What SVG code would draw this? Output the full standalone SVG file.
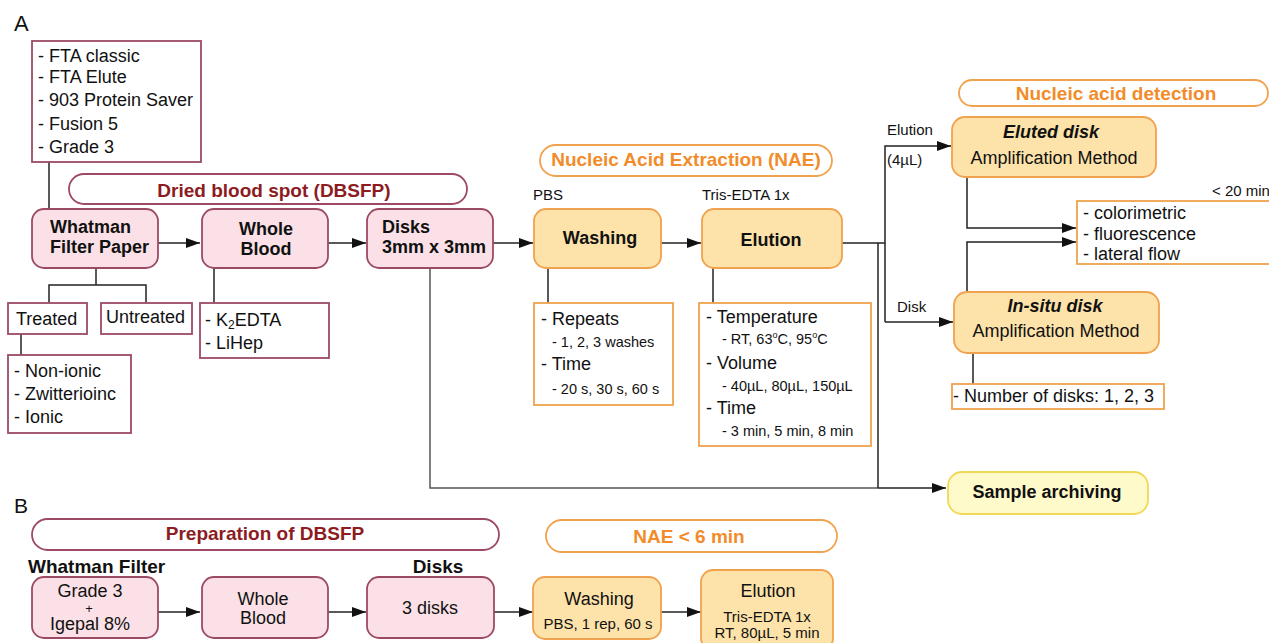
<svg xmlns="http://www.w3.org/2000/svg" width="1269" height="643" viewBox="0 0 1269 643">
<defs>
<marker id="ah" viewBox="0 0 14 10" refX="14" refY="5" markerWidth="14" markerHeight="10" markerUnits="userSpaceOnUse" orient="auto">
<path d="M0,0 L14,5 L0,10 Z" fill="#111"/>
</marker>
<style>
text{font-family:"Liberation Sans",Arial,sans-serif;fill:#111}
.t18{font-size:18px}
.t15{font-size:15px}
.t145{font-size:14.5px}
.b{font-weight:bold}
.bi{font-weight:bold;font-style:italic}
.c{text-anchor:middle}
.pk{fill:#fbe1e7;stroke:#9c4a64;stroke-width:1.8}
.pl{fill:#fff;stroke:#9c4a64;stroke-width:1.8}
.or{fill:#fde3a9;stroke:#f0a24e;stroke-width:1.8}
.ol{fill:#fff;stroke:#f0a24e;stroke-width:1.8}
.ye{fill:#fffac9;stroke:#efd957;stroke-width:1.8}
.bp{fill:#fff;stroke:#9c4a64;stroke-width:1.8}
.bo{fill:#fff;stroke:#f0a24e;stroke-width:1.8}
.tr{font-size:19px;font-weight:bold;fill:#8c1c1f}
.to{font-size:19px;font-weight:bold;fill:#f28c2a}
.ln{fill:none;stroke:#222;stroke-width:1.5}
.lg{fill:none;stroke:#555;stroke-width:1.5}
</style>
</defs>
<rect width="1269" height="643" fill="#fff"/>

<text x="14" y="31" style="font-size:22px">A</text>
<text x="14" y="513" style="font-size:21px">B</text>

<g id="connectors">
<line class="ln" x1="49" y1="162" x2="49" y2="209"/>
<line class="ln" x1="158" y1="243" x2="200" y2="243" marker-end="url(#ah)"/>
<line class="ln" x1="328" y1="243" x2="366" y2="243" marker-end="url(#ah)"/>
<line class="ln" x1="493" y1="243" x2="533" y2="243" marker-end="url(#ah)"/>
<line class="ln" x1="661" y1="243" x2="701" y2="243" marker-end="url(#ah)"/>
<polyline class="ln" points="96,268 96,285"/>
<polyline class="ln" points="49,303 49,285 146,285 146,303"/>
<line class="ln" x1="21" y1="334" x2="21" y2="355"/>
<line class="ln" x1="214" y1="268" x2="214" y2="303"/>
<polyline class="lg" points="430,268 430,488 878,488"/>
<line class="ln" x1="878" y1="488" x2="946" y2="488" marker-end="url(#ah)"/>
<line class="ln" x1="548" y1="268" x2="548" y2="303"/>
<line class="ln" x1="713" y1="268" x2="713" y2="303"/>
<line class="ln" x1="842" y1="243" x2="885" y2="243"/>
<line class="ln" x1="878" y1="243" x2="878" y2="488"/>
<polyline class="ln" points="885,322 885,146 951,146" marker-end="url(#ah)"/>
<line class="ln" x1="885" y1="322" x2="953" y2="322" marker-end="url(#ah)"/>
<polyline class="ln" points="967,177 967,228 1076,228" marker-end="url(#ah)"/>
<polyline class="ln" points="967,292 967,242 1076,242" marker-end="url(#ah)"/>
<line class="ln" x1="973" y1="353" x2="973" y2="384"/>
<line class="ln" x1="158" y1="612" x2="200" y2="612" marker-end="url(#ah)"/>
<line class="ln" x1="328" y1="612" x2="366" y2="612" marker-end="url(#ah)"/>
<line class="ln" x1="494" y1="612" x2="533" y2="612" marker-end="url(#ah)"/>
<line class="ln" x1="661" y1="612" x2="701" y2="612" marker-end="url(#ah)"/>
<text x="533" y="200" class="t15">PBS</text>
<text x="702" y="200" class="t15">Tris-EDTA 1x</text>
<text x="887" y="135" class="t15">Elution</text>
<text x="887" y="165" class="t15">(4µL)</text>
<text x="897" y="312" class="t15">Disk</text>
<text x="1212" y="196" class="t15">&lt; 20 min</text>
</g>

<g id="paper-list">
<rect class="pl" x="32" y="41" width="169" height="121"/>
<text class="t18" x="38" y="61.5">- FTA classic</text>
<text class="t18" x="38" y="83">- FTA Elute</text>
<text class="t18" x="38" y="106">- 903 Protein Saver</text>
<text class="t18" x="38" y="129.5">- Fusion 5</text>
<text class="t18" x="38" y="152.5">- Grade 3</text>
</g>

<g id="banner-dbsfp">
<rect class="bp" x="69" y="174" width="398" height="30" rx="15"/>
<text class="tr c" x="274" y="196.5">Dried blood spot (DBSFP)</text>
</g>

<g id="whatman">
<rect class="pk" x="32" y="209" width="126" height="59" rx="12"/>
<text class="t18 b" x="50" y="233">Whatman</text>
<text class="t18 b" x="50" y="253">Filter Paper</text>
</g>

<g id="wholeblood">
<rect class="pk" x="202" y="209" width="126" height="59" rx="12"/>
<text class="t18 b c" x="266" y="235">Whole</text>
<text class="t18 b c" x="266" y="255">Blood</text>
</g>

<g id="disks">
<rect class="pk" x="367" y="209" width="126" height="59" rx="12"/>
<text class="t18 b" x="382" y="233">Disks</text>
<text class="t18 b" x="382" y="253">3mm x 3mm</text>
</g>

<g id="treated">
<rect class="pl" x="8" y="303" width="79" height="31"/>
<text class="t18" x="16" y="325">Treated</text>
</g>
<g id="untreated">
<rect class="pl" x="101" y="303" width="91" height="31"/>
<text class="t18" x="106" y="323">Untreated</text>
</g>
<g id="surfactants">
<rect class="pl" x="8" y="355" width="123" height="78"/>
<text class="t18" x="14" y="377">- Non-ionic</text>
<text class="t18" x="14" y="400">- Zwitterioinc</text>
<text class="t18" x="14" y="423">- Ionic</text>
</g>
<g id="anticoag">
<rect class="pl" x="200" y="303" width="129" height="55"/>
<text class="t18" x="205" y="326">- K<tspan font-size="12" dy="3">2</tspan><tspan dy="-3">EDTA</tspan></text>
<text class="t18" x="205" y="349">- LiHep</text>
</g>

<g id="banner-nae">
<rect class="bo" x="540" y="145" width="292" height="31" rx="15.5"/>
<text class="to c" x="686" y="166">Nucleic Acid Extraction (NAE)</text>
</g>

<g id="washing">
<rect class="or" x="534" y="209" width="127" height="59" rx="12"/>
<text class="t18 b c" x="600" y="244">Washing</text>
</g>
<g id="elution">
<rect class="or" x="702" y="209" width="140" height="59" rx="12"/>
<text class="t18 b c" x="771" y="246">Elution</text>
</g>

<g id="washing-params">
<rect class="ol" x="534" y="303" width="139" height="102"/>
<text class="t18" x="541" y="325">- Repeats</text>
<text class="t145" x="552" y="347">- 1, 2, 3 washes</text>
<text class="t18" x="541" y="370">- Time</text>
<text class="t145" x="552" y="394">- 20 s, 30 s, 60 s</text>
</g>

<g id="elution-params">
<rect class="ol" x="699" y="303" width="172" height="143"/>
<text class="t18" x="706" y="323">- Temperature</text>
<text class="t145" x="722" y="344">- RT, 63<tspan font-size="9" dy="-6">o</tspan><tspan dy="6">C, 95</tspan><tspan font-size="9" dy="-6">o</tspan><tspan dy="6">C</tspan></text>
<text class="t18" x="706" y="369">- Volume</text>
<text class="t145" x="722" y="391">- 40µL, 80µL, 150µL</text>
<text class="t18" x="706" y="414">- Time</text>
<text class="t145" x="722" y="436">- 3 min, 5 min, 8 min</text>
</g>

<g id="banner-detection">
<rect class="bo" x="959" y="80" width="309" height="26" rx="13"/>
<text class="to c" x="1116" y="99.5">Nucleic acid detection</text>
</g>

<g id="eluted-disk">
<rect class="or" x="952" y="117" width="204" height="60" rx="13"/>
<text class="t18 bi c" x="1051" y="138">Eluted disk</text>
<text class="t18 c" x="1054" y="164">Amplification Method</text>
</g>

<g id="detection-methods">
<rect class="ol" x="1077" y="201" width="220" height="63"/>
<text class="t18" x="1083" y="219">- colorimetric</text>
<text class="t18" x="1083" y="239.5">- fluorescence</text>
<text class="t18" x="1083" y="259.5">- lateral flow</text>
</g>

<g id="insitu-disk">
<rect class="or" x="954" y="292" width="205" height="61" rx="13"/>
<text class="t18 bi c" x="1055" y="311.5">In-situ disk</text>
<text class="t18 c" x="1056" y="336.5">Amplification Method</text>
</g>

<g id="num-disks">
<rect class="ol" x="952" y="384" width="212" height="25"/>
<text class="t18" x="953" y="402">- Number of disks: 1, 2, 3</text>
</g>

<g id="sample-archiving">
<rect class="ye" x="948" y="472" width="200" height="42" rx="14"/>
<text class="t18 b c" x="1047" y="498">Sample archiving</text>
</g>

<g id="banner-prep">
<rect class="bp" x="32" y="519" width="467" height="31" rx="15.5"/>
<text class="tr c" x="265" y="540">Preparation of DBSFP</text>
</g>
<text class="b" x="28" y="573" style="font-size:19px">Whatman Filter</text>
<text class="b c" x="438" y="573" style="font-size:19px">Disks</text>

<g id="b-paper">
<rect class="pk" x="32" y="577" width="126" height="61" rx="12"/>
<text class="t18 c" x="90" y="597">Grade 3</text>
<text class="c" x="89" y="613" style="font-size:13px">+</text>
<text class="t18 c" x="90" y="630">Igepal 8%</text>
</g>
<g id="b-blood">
<rect class="pk" x="202" y="577" width="126" height="61" rx="12"/>
<text class="t18 c" x="263" y="605">Whole</text>
<text class="t18 c" x="263" y="624">Blood</text>
</g>
<g id="b-disks">
<rect class="pk" x="367" y="577" width="127" height="61" rx="12"/>
<text class="t18 c" x="430" y="614">3 disks</text>
</g>

<g id="banner-nae6">
<rect class="bo" x="546" y="520" width="291" height="32" rx="16"/>
<text class="to c" x="689" y="543">NAE &lt; 6 min</text>
</g>

<g id="b-washing">
<rect class="or" x="533" y="577" width="128" height="62" rx="12"/>
<text class="t18 c" x="599" y="605">Washing</text>
<text class="t15 c" x="598" y="629">PBS, 1 rep, 60 s</text>
</g>
<g id="b-elution">
<rect class="or" x="701" y="570" width="132" height="80" rx="12"/>
<text class="t18 c" x="768" y="597">Elution</text>
<text class="t15 c" x="767" y="621.5">Tris-EDTA 1x</text>
<text class="t15 c" x="767" y="638">RT, 80µL, 5 min</text>
</g>
</svg>
